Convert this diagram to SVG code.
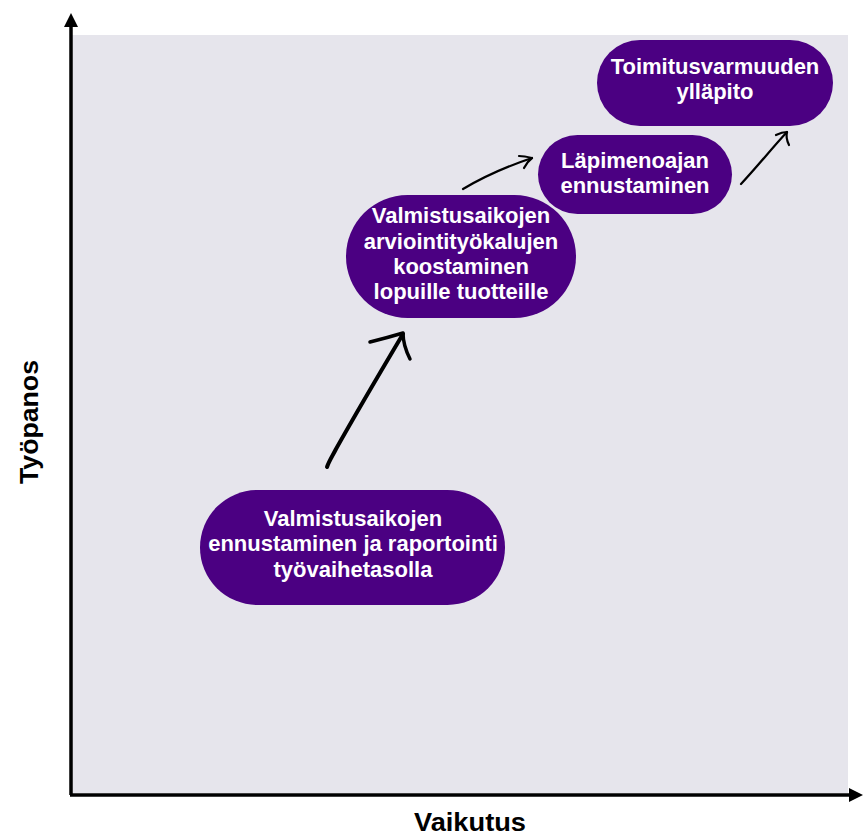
<svg xmlns="http://www.w3.org/2000/svg" width="864" height="837" viewBox="0 0 864 837">
  <defs>
    <style>
      .node { fill: #4b0082; }
      .label { font-family: "Liberation Sans", Arial, sans-serif; font-weight: bold; font-size: 22px; fill: #ffffff; text-anchor: middle; }
      .axis { stroke: #000; stroke-width: 3.5; fill: none; }
      .axis-title { font-family: "Liberation Sans", Arial, sans-serif; font-weight: bold; font-size: 25px; fill: #000; text-anchor: middle; }
      .sketch { stroke: #000; fill: none; stroke-linecap: round; stroke-linejoin: round; }
    </style>
    <marker id="axis-head" markerWidth="4" markerHeight="4" refX="2" refY="2" orient="auto" markerUnits="strokeWidth">
      <path d="M0,0 L4,2 L0,4 Z" fill="#000"/>
    </marker>
  </defs>

  <!-- plot area -->
  <rect x="72" y="35" width="776" height="758" fill="#e6e5ec"/>

  <!-- axes -->
  <g id="axes">
    <line class="axis" x1="71" y1="795" x2="71" y2="20" marker-end="url(#axis-head)"/>
    <line class="axis" x1="70" y1="795" x2="856" y2="795" marker-end="url(#axis-head)"/>
    <text class="axis-title" x="470" y="831" textLength="112" lengthAdjust="spacingAndGlyphs">Vaikutus</text>
    <text class="axis-title" transform="translate(38,422) rotate(-90)" textLength="124" lengthAdjust="spacingAndGlyphs">Työpanos</text>
  </g>

  <!-- nodes -->
  <g id="node-tyovaihe">
    <rect class="node" x="200" y="490" width="305" height="115" rx="57.5"/>
    <text class="label" x="353" y="526">Valmistusaikojen</text>
    <text class="label" x="353" y="551">ennustaminen ja raportointi</text>
    <text class="label" x="353" y="577">työvaihetasolla</text>
  </g>

  <g id="node-arviointi">
    <rect class="node" x="346" y="195" width="230" height="123" rx="61.5"/>
    <text class="label" x="461" y="223">Valmistusaikojen</text>
    <text class="label" x="461" y="249">arviointityökalujen</text>
    <text class="label" x="461" y="274">koostaminen</text>
    <text class="label" x="461" y="299">lopuille tuotteille</text>
  </g>

  <g id="node-lapimeno">
    <rect class="node" x="538" y="135" width="194" height="79" rx="39.5"/>
    <text class="label" x="635" y="168">Läpimenoajan</text>
    <text class="label" x="635" y="193">ennustaminen</text>
  </g>

  <g id="node-toimitus">
    <rect class="node" x="597" y="40" width="236" height="86" rx="43"/>
    <text class="label" x="715" y="74">Toimitusvarmuuden</text>
    <text class="label" x="715" y="99">ylläpito</text>
  </g>

  <!-- connectors: hand-drawn strokes -->
  <g id="connectors">
    <path class="sketch" stroke-width="4" d="M327,467 C329,461 333,455 336,449 C359,408 381,371 403,334"/>
    <path class="sketch" stroke-width="3.5" d="M370,342 C382,339 393,336 403,333 C403,342 406,351 410,359"/>
    <path class="sketch" stroke-width="2.2" d="M463,189 C485,176 508,166 532,158"/>
    <path class="sketch" stroke-width="2.2" d="M519,156 C524,156 528,157 532,158 C528,161 526,164 524,168"/>
    <path class="sketch" stroke-width="2.2" d="M741,184 C757,167 772,148 787,132"/>
    <path class="sketch" stroke-width="2.2" d="M776,135 C780,133 784,132 787,132 C786,136 787,141 789,145"/>
  </g>
</svg>
